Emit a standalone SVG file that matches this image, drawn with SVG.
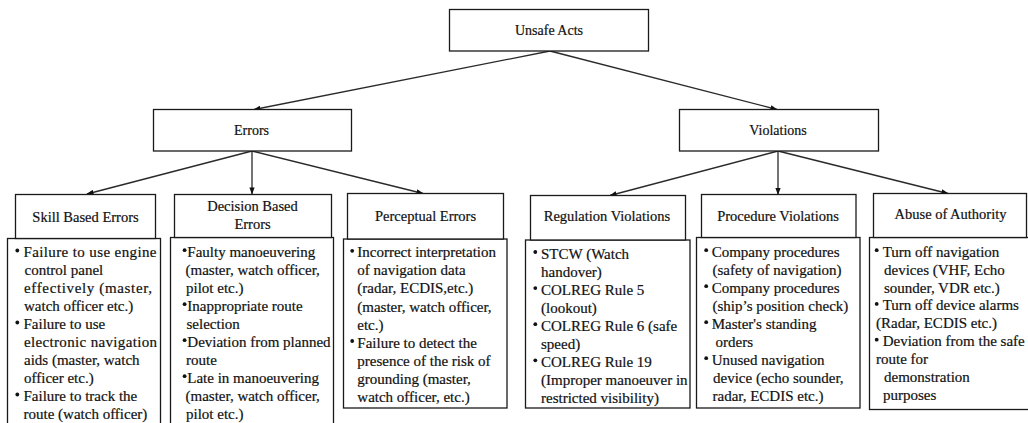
<svg xmlns="http://www.w3.org/2000/svg" width="1028" height="423" viewBox="0 0 1028 423">
  <defs>
    <marker id="arrow" viewBox="0 0 8 6" refX="7.5" refY="3" markerWidth="7" markerHeight="5.5" markerUnits="userSpaceOnUse" orient="auto">
      <path d="M0,0 L8,3 L0,6 z" fill="#111"/>
    </marker>
  </defs>
  <style>
    .box { fill: #fff; stroke: #1a1a1a; stroke-width: 1.3; }
    .conn { fill: none; stroke: #2a2a2a; stroke-width: 1.3; marker-end: url(#arrow); }
    text { font-family: "Liberation Serif", "DejaVu Serif", "Times New Roman", serif; fill: #111; stroke: #111; stroke-width: 0.2; }
    .top { font-size: 14px; text-anchor: middle; }
    .head { font-size: 14.5px; text-anchor: middle; }
    .item { font-size: 15px; }
    .dot { fill: #111; }
  </style>
  <rect width="1028" height="423" fill="#fff"/>

  <!-- connectors -->
  <g id="connectors">
    <line class="conn" x1="550" y1="51" x2="254" y2="109.5"/>
    <line class="conn" x1="550" y1="51" x2="777" y2="109.5"/>
    <line class="conn" x1="252" y1="151" x2="87" y2="194"/>
    <line class="conn" x1="252" y1="151" x2="252" y2="194"/>
    <line class="conn" x1="252" y1="151" x2="423" y2="193.5"/>
    <line class="conn" x1="778" y1="151" x2="610" y2="195.5"/>
    <line class="conn" x1="778" y1="151" x2="778" y2="194.5"/>
    <line class="conn" x1="778" y1="151" x2="948" y2="193.5"/>
  </g>

  <!-- root -->
  <g id="unsafe-acts">
    <rect class="box" x="449.5" y="9.5" width="199" height="41.5"/>
    <text class="top" x="549" y="34.5">Unsafe Acts</text>
  </g>

  <!-- second level -->
  <g id="errors">
    <rect class="box" x="153.5" y="109.5" width="198" height="41.5"/>
    <text class="top" x="251.5" y="134.5">Errors</text>
  </g>
  <g id="violations">
    <rect class="box" x="679.5" y="109.5" width="199" height="41.5"/>
    <text class="top" x="778" y="134.5">Violations</text>
  </g>

  <!-- Skill Based Errors -->
  <g id="skill-based-errors">
    <rect class="box" x="7.5" y="238.5" width="153" height="200"/>
    <rect class="box" x="15.5" y="194.5" width="140" height="44"/>
    <text class="head" x="85.5" y="221.5">Skill Based Errors</text>
    <circle class="dot" cx="17.3" cy="250.5" r="1.9"/>
    <circle class="dot" cx="17.3" cy="322.5" r="1.9"/>
    <circle class="dot" cx="17.3" cy="394.5" r="1.9"/>
    <text class="item" x="23.5" y="257" textLength="133" lengthAdjust="spacing">Failure to use engine</text>
    <text class="item" x="24.5" y="275">control panel</text>
    <text class="item" x="24" y="293" textLength="128" lengthAdjust="spacing">effectively (master,</text>
    <text class="item" x="24" y="311">watch officer etc.)</text>
    <text class="item" x="23.5" y="329">Failure to use</text>
    <text class="item" x="24" y="347" textLength="133" lengthAdjust="spacing">electronic navigation</text>
    <text class="item" x="24" y="365">aids (master, watch</text>
    <text class="item" x="24" y="383">officer etc.)</text>
    <text class="item" x="23.5" y="401">Failure to track the</text>
    <text class="item" x="23.5" y="419">route (watch officer)</text>
  </g>

  <!-- Decision Based Errors -->
  <g id="decision-based-errors">
    <rect class="box" x="170.5" y="237.5" width="163" height="200"/>
    <rect class="box" x="174.5" y="194.5" width="157" height="43"/>
    <text class="head" x="252.5" y="211">Decision Based</text>
    <text class="head" x="252.5" y="228.5">Errors</text>
    <circle class="dot" cx="184.6" cy="250.2" r="1.9"/>
    <circle class="dot" cx="184.6" cy="304.2" r="1.9"/>
    <circle class="dot" cx="184.6" cy="340.2" r="1.9"/>
    <circle class="dot" cx="184.6" cy="376.2" r="1.9"/>
    <text class="item" x="187.3" y="256.7">Faulty manoeuvering</text>
    <text class="item" x="185.5" y="274.7">(master, watch officer,</text>
    <text class="item" x="186" y="292.7">pilot etc.)</text>
    <text class="item" x="187.3" y="310.7">Inappropriate route</text>
    <text class="item" x="186.5" y="328.7">selection</text>
    <text class="item" x="187.3" y="346.7">Deviation from planned</text>
    <text class="item" x="186" y="364.7">route</text>
    <text class="item" x="187.3" y="382.7">Late in manoeuvering</text>
    <text class="item" x="185.5" y="400.7">(master, watch officer,</text>
    <text class="item" x="186" y="418.7">pilot etc.)</text>
  </g>

  <!-- Perceptual Errors -->
  <g id="perceptual-errors">
    <rect class="box" x="343.5" y="239" width="163.5" height="169"/>
    <rect class="box" x="347.5" y="193.5" width="156" height="45.5"/>
    <text class="head" x="425.5" y="220.5">Perceptual Errors</text>
    <circle class="dot" cx="352.2" cy="250.8" r="1.9"/>
    <circle class="dot" cx="352.2" cy="341" r="1.9"/>
    <text class="item" x="357.3" y="257.3">Incorrect interpretation</text>
    <text class="item" x="357.3" y="275.4">of navigation data</text>
    <text class="item" x="357.3" y="293.4">(radar, ECDIS,etc.)</text>
    <text class="item" x="357.3" y="311.5">(master, watch officer,</text>
    <text class="item" x="357.3" y="329.5">etc.)</text>
    <text class="item" x="357.3" y="347.5">Failure to detect the</text>
    <text class="item" x="357.3" y="365.6">presence of the risk of</text>
    <text class="item" x="357.3" y="383.6">grounding (master,</text>
    <text class="item" x="357.3" y="401.7">watch officer, etc.)</text>
  </g>

  <!-- Regulation Violations -->
  <g id="regulation-violations">
    <rect class="box" x="525.5" y="240" width="164.5" height="168"/>
    <rect class="box" x="530.5" y="195.5" width="155" height="44.5"/>
    <text class="head" x="607" y="221">Regulation Violations</text>
    <circle class="dot" cx="535.3" cy="252" r="1.9"/>
    <circle class="dot" cx="535.3" cy="288.1" r="1.9"/>
    <circle class="dot" cx="535.3" cy="324.2" r="1.9"/>
    <circle class="dot" cx="535.3" cy="360.3" r="1.9"/>
    <text class="item" x="541" y="258.5">STCW (Watch</text>
    <text class="item" x="541" y="276.5">handover)</text>
    <text class="item" x="541" y="294.6">COLREG Rule 5</text>
    <text class="item" x="541" y="312.6">(lookout)</text>
    <text class="item" x="541" y="330.7">COLREG Rule 6 (safe</text>
    <text class="item" x="541" y="348.8">speed)</text>
    <text class="item" x="541" y="366.8">COLREG Rule 19</text>
    <text class="item" x="541" y="384.9">(Improper manoeuver in</text>
    <text class="item" x="541" y="402.9">restricted visibility)</text>
  </g>

  <!-- Procedure Violations -->
  <g id="procedure-violations">
    <rect class="box" x="696.5" y="237.5" width="163.5" height="170.5"/>
    <rect class="box" x="701.5" y="194.5" width="154.5" height="43"/>
    <text class="head" x="778" y="220.5">Procedure Violations</text>
    <circle class="dot" cx="706.2" cy="250.2" r="1.9"/>
    <circle class="dot" cx="706.2" cy="286.2" r="1.9"/>
    <circle class="dot" cx="706.2" cy="322.2" r="1.9"/>
    <circle class="dot" cx="706.2" cy="358.2" r="1.9"/>
    <text class="item" x="711.7" y="256.7">Company procedures</text>
    <text class="item" x="712.5" y="274.7">(safety of navigation)</text>
    <text class="item" x="711.7" y="292.7">Company procedures</text>
    <text class="item" x="712.5" y="310.7">(ship’s position check)</text>
    <text class="item" x="711.7" y="328.7">Master's standing</text>
    <text class="item" x="715.5" y="346.7">orders</text>
    <text class="item" x="711.7" y="364.7">Unused navigation</text>
    <text class="item" x="713" y="382.7">device (echo sounder,</text>
    <text class="item" x="712.5" y="400.7">radar, ECDIS etc.)</text>
  </g>

  <!-- Abuse of Authority -->
  <g id="abuse-of-authority">
    <rect class="box" x="869.5" y="237.5" width="165" height="172"/>
    <rect class="box" x="873.5" y="193.5" width="153" height="44"/>
    <text class="head" x="950.5" y="218.5">Abuse of Authority</text>
    <circle class="dot" cx="876.7" cy="250.2" r="1.9"/>
    <circle class="dot" cx="876.7" cy="303.9" r="1.9"/>
    <circle class="dot" cx="876.7" cy="339.7" r="1.9"/>
    <text class="item" x="882.7" y="256.7">Turn off navigation</text>
    <text class="item" x="884" y="274.6">devices (VHF, Echo</text>
    <text class="item" x="884" y="292.5">sounder, VDR etc.)</text>
    <text class="item" x="882.7" y="310.4">Turn off device alarms</text>
    <text class="item" x="876" y="328.3">(Radar, ECDIS etc.)</text>
    <text class="item" x="882.7" y="346.2">Deviation from the safe</text>
    <text class="item" x="876" y="364.1">route for</text>
    <text class="item" x="884" y="382">demonstration</text>
    <text class="item" x="883" y="399.9">purposes</text>
  </g>
</svg>
